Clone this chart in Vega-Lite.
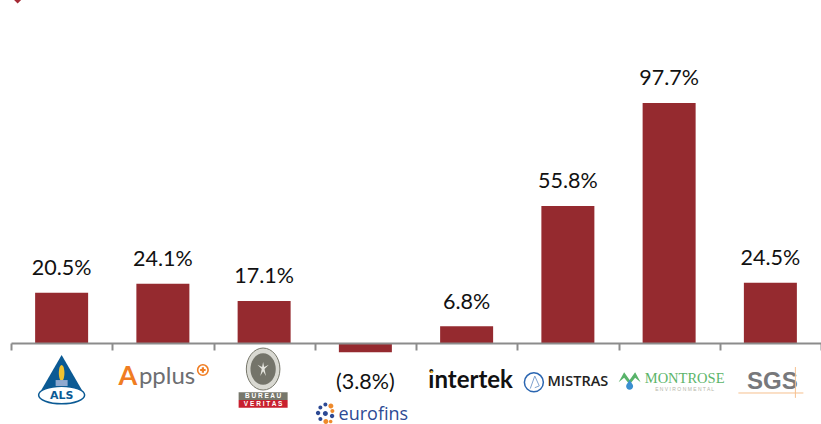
{"$schema":"https://vega.github.io/schema/vega-lite/v6.json","width":810,"height":424,"autosize":{"type":"none"},"padding":{"left":11,"top":0,"right":0,"bottom":0},"background":"white","config":{"view":{"stroke":null}},"data":{"values":[{"company":"ALS","value":20.5,"label":"20.5%"},{"company":"Applus","value":24.1,"label":"24.1%"},{"company":"Bureau Veritas","value":17.1,"label":"17.1%"},{"company":"Eurofins","value":-3.8,"label":"(3.8%)"},{"company":"Intertek","value":6.8,"label":"6.8%"},{"company":"Mistras","value":55.8,"label":"55.8%"},{"company":"Montrose","value":97.7,"label":"97.7%"},{"company":"SGS","value":24.5,"label":"24.5%"}]},"encoding":{"x":{"field":"company","type":"nominal","sort":null,"scale":{"domain":["ALS","Applus","Bureau Veritas","Eurofins","Intertek","Mistras","Montrose","SGS"],"paddingInner":0,"paddingOuter":0},"axis":{"title":null,"labels":false,"offset":-81,"tickBand":"extent","tickSize":7,"tickWidth":2,"tickColor":"#8c8c8c","domainColor":"#8c8c8c","domainWidth":2,"zindex":1}}},"layer":[{"mark":{"type":"bar","width":53,"color":"#952a2f"},"encoding":{"y":{"field":"value","type":"quantitative","scale":{"domain":[-32.97,139.6],"nice":false,"zero":false},"axis":null}}},{"transform":[{"filter":"datum.value>=0"}],"mark":{"type":"text","font":"Lato","fontSize":21.5,"color":"#111111","baseline":"middle","yOffset":-23.5},"encoding":{"y":{"field":"value","type":"quantitative","axis":null},"text":{"field":"label"}}},{"transform":[{"filter":"datum.value<0"}],"mark":{"type":"text","font":"Lato","fontSize":21.5,"color":"#111111","baseline":"middle","yOffset":30.5},"encoding":{"y":{"field":"value","type":"quantitative","axis":null},"text":{"field":"label"}}},{"data":{"values":[{"company":"ALS"}]},"mark":{"type":"point","shape":"diamond","filled":true,"opacity":1,"size":130,"color":"#a52a35","xOffset":-44},"encoding":{"y":{"datum":140.5,"type":"quantitative","axis":null}}},{"data":{"values":[{"company":"ALS"}]},"mark":{"type":"point","shape":"triangle-up","filled":true,"opacity":1,"size":2116,"color":"#0b5a94"},"encoding":{"y":{"datum":-13,"type":"quantitative","axis":null}}},{"data":{"values":[{"company":"ALS"}]},"mark":{"type":"point","shape":"M-1,0A1,0.38 0 1,1 1,0A1,0.38 0 1,1 -1,0Z","filled":true,"opacity":1,"size":2116,"fill":"white","stroke":"#0b5a94","strokeWidth":1.5},"encoding":{"y":{"datum":-21.2,"type":"quantitative","axis":null}}},{"data":{"values":[{"company":"ALS"}]},"mark":{"type":"point","shape":"M0,-1A0.35,1 0 1,1 0,1A0.35,1 0 1,1 0,-1Z","filled":true,"opacity":1,"size":256,"color":"#f2c230"},"encoding":{"y":{"datum":-12.2,"type":"quantitative","axis":null}}},{"data":{"values":[{"company":"ALS"}]},"mark":{"type":"point","shape":"M-1,-0.5H1V0.5H-1Z","filled":true,"opacity":1,"size":144,"color":"#8fa9cf"},"encoding":{"y":{"datum":-16.3,"type":"quantitative","axis":null}}},{"data":{"values":[{"company":"ALS","logo":"ALS"}]},"mark":{"type":"text","font":"DejaVu Sans","fontWeight":"bold","fontSize":11,"color":"#0b5a94","baseline":"middle"},"encoding":{"y":{"datum":-21.4,"type":"quantitative","axis":null},"text":{"field":"logo"}}},{"data":{"values":[{"company":"Applus","logo":"A"}]},"mark":{"type":"text","font":"Lato","fontWeight":"bold","fontSize":27,"color":"#f07d22","baseline":"middle","align":"center","xOffset":-35},"encoding":{"y":{"datum":-14,"type":"quantitative","axis":null},"text":{"field":"logo"}}},{"data":{"values":[{"company":"Applus","logo":"pplus"}]},"mark":{"type":"text","font":"Lato","fontWeight":"normal","fontSize":24,"color":"#6d6e71","baseline":"middle","align":"left","xOffset":-24},"encoding":{"y":{"datum":-14,"type":"quantitative","axis":null},"text":{"field":"logo"}}},{"data":{"values":[{"company":"Applus"}]},"mark":{"type":"point","shape":"circle","filled":false,"opacity":1,"size":110,"color":"#f07d22","strokeWidth":1.6,"xOffset":40},"encoding":{"y":{"datum":-11,"type":"quantitative","axis":null}}},{"data":{"values":[{"company":"Applus"}]},"mark":{"type":"point","shape":"cross","filled":true,"opacity":1,"size":30,"color":"#f07d22","xOffset":40},"encoding":{"y":{"datum":-11,"type":"quantitative","axis":null}}},{"data":{"values":[{"company":"Bureau Veritas"}]},"mark":{"type":"point","shape":"M-0.8,0A0.8,1 0 1,1 0.8,0A0.8,1 0 1,1 -0.8,0Z","filled":true,"opacity":1,"size":1764,"fill":"#d9d9d2","stroke":"#77776b","strokeWidth":1,"xOffset":-1},"encoding":{"y":{"datum":-10.6,"type":"quantitative","axis":null}}},{"data":{"values":[{"company":"Bureau Veritas"}]},"mark":{"type":"point","shape":"M-0.8,0A0.8,1 0 1,1 0.8,0A0.8,1 0 1,1 -0.8,0Z","filled":true,"opacity":1,"size":1000,"color":"#74746a","xOffset":-1},"encoding":{"y":{"datum":-10.6,"type":"quantitative","axis":null}}},{"data":{"values":[{"company":"Bureau Veritas"}]},"mark":{"type":"point","shape":"M0,-1L0.15,-0.3L0.8,-0.6L0.2,0L0.4,1L0,0.3L-0.4,1L-0.2,0L-0.8,-0.6L-0.15,-0.3Z","filled":true,"opacity":1,"size":200,"color":"#e4e4dd","xOffset":-1},"encoding":{"y":{"datum":-10.6,"type":"quantitative","axis":null}}},{"data":{"values":[{"company":"Bureau Veritas"}]},"mark":{"type":"point","shape":"M-1,-0.16H1V0.16H-1Z","filled":true,"opacity":1,"size":2401,"color":"#77776b","xOffset":-1},"encoding":{"y":{"datum":-21.6,"type":"quantitative","axis":null}}},{"data":{"values":[{"company":"Bureau Veritas"}]},"mark":{"type":"point","shape":"M-1,-0.16H1V0.16H-1Z","filled":true,"opacity":1,"size":2401,"color":"#c8202f","xOffset":-1},"encoding":{"y":{"datum":-24.8,"type":"quantitative","axis":null}}},{"data":{"values":[{"company":"Bureau Veritas","logo":"B U R E A U"}]},"mark":{"type":"text","font":"Liberation Sans","fontWeight":"bold","fontSize":6.5,"color":"white","baseline":"middle","xOffset":-1},"encoding":{"y":{"datum":-21.6,"type":"quantitative","axis":null},"text":{"field":"logo"}}},{"data":{"values":[{"company":"Bureau Veritas","logo":"V E R I T A S"}]},"mark":{"type":"text","font":"Liberation Sans","fontWeight":"bold","fontSize":6.5,"color":"white","baseline":"middle","xOffset":-1},"encoding":{"y":{"datum":-24.8,"type":"quantitative","axis":null},"text":{"field":"logo"}}},{"data":{"values":[{"company":"Eurofins","logo":"eurofins"}]},"mark":{"type":"text","font":"Open Sans","fontSize":18,"color":"#2d4a94","baseline":"middle","xOffset":8},"encoding":{"y":{"datum":-29.3,"type":"quantitative","axis":null},"text":{"field":"logo"}}},{"data":{"values":[{"company":"Eurofins"}]},"mark":{"type":"point","shape":"M-0.95,-0.1a0.22,0.22 0 1,0 0.44,0a0.22,0.22 0 1,0 -0.44,0ZM-0.7,-0.65a0.2,0.2 0 1,0 0.4,0a0.2,0.2 0 1,0 -0.4,0ZM-0.7,0.5a0.2,0.2 0 1,0 0.4,0a0.2,0.2 0 1,0 -0.4,0ZM-0.2,-0.95a0.2,0.2 0 1,0 0.4,0a0.2,0.2 0 1,0 -0.4,0ZM-0.25,-0.05a0.25,0.25 0 1,0 0.5,0a0.25,0.25 0 1,0 -0.5,0ZM0.45,0.2a0.22,0.22 0 1,0 0.44,0a0.22,0.22 0 1,0 -0.44,0Z","filled":true,"opacity":1,"size":400,"color":"#2d4a94","xOffset":-40},"encoding":{"y":{"datum":-28.9,"type":"quantitative","axis":null}}},{"data":{"values":[{"company":"Eurofins"}]},"mark":{"type":"point","shape":"M0.3,-0.8a0.25,0.25 0 1,0 0.5,0a0.25,0.25 0 1,0 -0.5,0ZM0.5,-0.3a0.2,0.2 0 1,0 0.4,0a0.2,0.2 0 1,0 -0.4,0ZM-0.2,0.75a0.25,0.25 0 1,0 0.5,0a0.25,0.25 0 1,0 -0.5,0ZM0.35,0.75a0.18,0.18 0 1,0 0.36,0a0.18,0.18 0 1,0 -0.36,0Z","filled":true,"opacity":1,"size":400,"color":"#ee8a2c","xOffset":-40},"encoding":{"y":{"datum":-28.9,"type":"quantitative","axis":null}}},{"data":{"values":[{"company":"Intertek","logo":"intertek"}]},"mark":{"type":"text","font":"Lato","fontWeight":"bold","fontSize":24,"color":"#111111","baseline":"middle","xOffset":4},"encoding":{"y":{"datum":-15.5,"type":"quantitative","axis":null},"text":{"field":"logo"}}},{"data":{"values":[{"company":"Mistras","logo":"MISTRAS"}]},"mark":{"type":"text","font":"Open Sans","fontWeight":600,"fontSize":14.5,"color":"#222222","baseline":"middle","xOffset":10},"encoding":{"y":{"datum":-16,"type":"quantitative","axis":null},"text":{"field":"logo"}}},{"data":{"values":[{"company":"Mistras"}]},"mark":{"type":"point","shape":"circle","filled":false,"opacity":1,"size":360,"color":"#2b66b1","strokeWidth":1.5,"xOffset":-34},"encoding":{"y":{"datum":-16,"type":"quantitative","axis":null}}},{"data":{"values":[{"company":"Mistras"}]},"mark":{"type":"point","shape":"M-0.4,0.7L0.1,-0.7L0.6,0.4L0.1,0.6","filled":false,"opacity":1,"size":324,"color":"#7fa2cf","strokeWidth":1,"xOffset":-34},"encoding":{"y":{"datum":-16,"type":"quantitative","axis":null}}},{"data":{"values":[{"company":"Montrose","logo":"MONTROSE"}]},"mark":{"type":"text","font":"Liberation Serif","fontSize":14.5,"color":"#5cb56a","baseline":"middle","xOffset":15.5},"encoding":{"y":{"datum":-14.6,"type":"quantitative","axis":null},"text":{"field":"logo"}}},{"data":{"values":[{"company":"Montrose","logo":"E N V I R O N M E N T A L"}]},"mark":{"type":"text","font":"Liberation Sans","fontSize":5,"color":"#b5b5a8","baseline":"middle","xOffset":15.5},"encoding":{"y":{"datum":-18.7,"type":"quantitative","axis":null},"text":{"field":"logo"}}},{"data":{"values":[{"company":"Montrose"}]},"mark":{"type":"point","shape":"M-1,0.1L-0.5,-0.8L0,-0.1L0.5,-0.8L1,0.1L0.5,-0.3L0,0.3L-0.5,-0.3Z","filled":true,"opacity":1,"size":484,"color":"#58b36a","xOffset":-39.5},"encoding":{"y":{"datum":-15.5,"type":"quantitative","axis":null}}},{"data":{"values":[{"company":"Montrose"}]},"mark":{"type":"point","shape":"M0,-1C0.3,-0.4 0.7,-0.1 0.7,0.3A0.7,0.7 0 1,1 -0.7,0.3C-0.7,-0.1 -0.3,-0.4 0,-1Z","filled":true,"opacity":1,"size":100,"color":"#3a8fd0","xOffset":-39.5},"encoding":{"y":{"datum":-17,"type":"quantitative","axis":null}}},{"data":{"values":[{"company":"SGS","logo":"SGS"}]},"mark":{"type":"text","font":"Liberation Sans","fontWeight":"bold","fontSize":24,"color":"#77787b","baseline":"middle","xOffset":2},"encoding":{"y":{"datum":-15.9,"type":"quantitative","axis":null},"text":{"field":"logo"}}},{"data":{"values":[{"company":"SGS"}]},"mark":{"type":"point","shape":"M-1,0H1M0.754,-0.8V0.15","filled":false,"opacity":1,"size":4225,"color":"#f6c08f","strokeWidth":1,"xOffset":0.5},"encoding":{"y":{"datum":-20.35,"type":"quantitative","axis":null}}},{"data":{"values":[{"company":"Intertek"}]},"mark":{"type":"point","shape":"circle","filled":true,"opacity":1,"size":7,"color":"#f2b632","xOffset":-35},"encoding":{"y":{"datum":-11.8,"type":"quantitative","axis":null}}}]}
